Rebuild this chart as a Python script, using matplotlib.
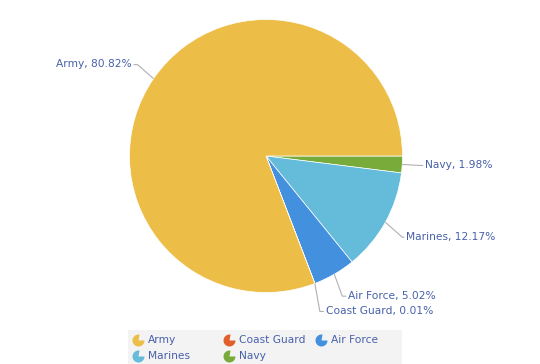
import numpy as np
import matplotlib.pyplot as plt
from matplotlib.path import Path
from matplotlib.patches import Rectangle

# slices, clockwise from 3 o'clock
labels = ['Navy', 'Marines', 'Air Force', 'Coast Guard', 'Army']
shares = [1.98, 12.17, 5.02, 0.01, 80.82]
colors = ['#79ab3b', '#64bbda', '#4390df', '#e15f2a', '#edbe47']

# legend order (row by row, three columns)
legend_order = ['Army', 'Coast Guard', 'Air Force', 'Marines', 'Navy']

text_color = '#4760aa'
line_color = '#b0b0b0'
fs = 7.7

W, H = 540, 364
fig = plt.figure(figsize=(W / 100, H / 100), dpi=100)

cx, cy, r = 266, 156, 136.5
ax = fig.add_axes([(cx - r) / W, (H - cy - r) / H, 2 * r / W, 2 * r / H])
wedges, _ = ax.pie(shares, colors=colors, startangle=0, counterclock=False,
                   wedgeprops=dict(edgecolor='white', linewidth=0.5))
ax.set_xlim(-1, 1)
ax.set_ylim(-1, 1)
ax.set_aspect('equal')

# outside labels with leader lines (offsets in pie-radius units)
def px(dx, dy):
    return dx / r, -dy / r

label_layout = {
    # name: (elbow offset from edge, text offset from edge, ha)
    'Army': (px(-16, -14), px(-22, -15), 'right'),
    'Navy': (px(18, 1), px(23, 1), 'left'),
    'Marines': (px(17, 15), px(21, 15), 'left'),
    'Air Force': (px(8, 22), px(14, 22), 'left'),
    'Coast Guard': (px(5, 28), px(11, 28), 'left'),
}

for w, name, v in zip(wedges, labels, shares):
    mid = np.deg2rad((w.theta1 + w.theta2) / 2)
    ex, ey = np.cos(mid), np.sin(mid)
    (ox, oy), (tx, ty), ha = label_layout[name]
    ax.plot([ex, ex + ox, ex + tx - (0.015 if ha == 'left' else -0.015)],
            [ey, ey + oy, ey + oy], color=line_color, lw=0.8,
            clip_on=False, solid_capstyle='butt')
    ax.text(ex + tx, ey + ty, f'{name}, {v:.2f}%', ha=ha, va='center',
            fontsize=fs, color=text_color, clip_on=False)

# legend
lax = fig.add_axes([0, 0, 1, 1])
lax.set_xlim(0, W)
lax.set_ylim(H, 0)
lax.axis('off')
lax.add_patch(Rectangle((128, 330), 402 - 128, 40, facecolor='#f3f3f3',
                        edgecolor='none'))
icon = Path.wedge(80, 360)
col_x = [138, 229, 321]
row_y = [340, 356]
color_of = dict(zip(labels, colors))
for i, name in enumerate(legend_order):
    x = col_x[i % 3]
    y = row_y[i // 3]
    lax.scatter([x], [y], marker=icon, s=75, color=color_of[name],
                linewidths=0)
    lax.text(x + 10, y, name, ha='left', va='center', fontsize=fs,
             color=text_color)

fig.savefig('out.png', dpi=100)
